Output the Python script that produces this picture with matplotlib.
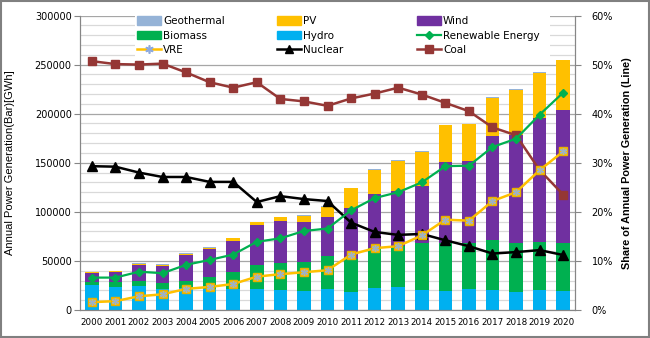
import numpy as np
import matplotlib.pyplot as plt
from matplotlib.lines import Line2D
from matplotlib.patches import Patch, Rectangle
from matplotlib.ticker import MultipleLocator, FuncFormatter

# Annual generation by renewable source (GWh) - bars, left axis
years = [str(y) for y in range(2000, 2021)]
hydro = [25100, 23400, 24400, 21000, 22000, 21400, 21400, 21400, 20700, 19300, 21400,
         18600, 22700, 23400, 20700, 19600, 21400, 20300, 18600, 20300, 19300]
biomass = [3700, 5400, 5400, 6100, 7800, 11800, 17600, 24000, 27400, 29900, 33800,
           33300, 40000, 42000, 47700, 48200, 47100, 50900, 49900, 49200, 49200]
wind = [8500, 9500, 16000, 18000, 26100, 28800, 31500, 40700, 42100, 40300, 39100,
        52100, 55000, 55600, 58000, 83000, 83300, 105800, 109800, 126500, 135200]
pv = [1000, 1000, 1200, 1200, 1200, 1200, 2500, 3200, 4100, 6500, 10900,
      19800, 25100, 30900, 35000, 37400, 37400, 39300, 45900, 45400, 50700]
geothermal = [500, 500, 500, 500, 500, 500, 500, 500, 600, 600, 600,
              600, 600, 600, 600, 600, 600, 600, 600, 600, 600]

# Share of annual power generation (%) - lines, right axis
renewable_share = [6.6, 6.6, 7.8, 7.5, 9.2, 10.2, 11.3, 13.9, 14.6, 16.1, 16.6,
                   20.3, 22.8, 24.0, 26.0, 29.3, 29.4, 33.2, 34.9, 39.8, 44.3]
vre_share = [1.6, 1.8, 2.8, 3.2, 4.3, 4.7, 5.3, 6.8, 7.3, 7.7, 8.1,
             11.3, 12.6, 13.0, 15.2, 18.4, 18.2, 22.2, 24.0, 28.5, 32.3]
nuclear_share = [29.3, 29.2, 28.0, 27.1, 27.1, 26.1, 26.1, 22.0, 23.2, 22.6, 22.2,
                 17.8, 15.9, 15.3, 15.5, 14.2, 13.0, 11.5, 11.8, 12.2, 11.2]
coal_share = [50.7, 50.1, 50.0, 50.2, 48.4, 46.4, 45.3, 46.4, 43.0, 42.5, 41.6,
              43.1, 44.1, 45.3, 43.9, 42.2, 40.5, 37.2, 35.6, 28.5, 23.5]

c_hydro, c_bio, c_wind, c_pv, c_geo = '#00B0F0', '#00B050', '#7030A0', '#FFC000', '#95B3D7'
c_coal, c_grey = '#953735', '#868686'

W, H = 650, 338
fig = plt.figure(figsize=(W / 100, H / 100), dpi=100)
ax = fig.add_axes([80 / W, 1 - 310 / H, 495 / W, 294.5 / H])
x = np.arange(len(years))

# stacked bars
bottom = np.zeros(len(years))
for vals, col in [(hydro, c_hydro), (biomass, c_bio), (wind, c_wind), (pv, c_pv), (geothermal, c_geo)]:
    ax.bar(x, vals, width=0.57, bottom=bottom, color=col, zorder=2)
    bottom += np.array(vals)

ax.set_xlim(-0.5, len(years) - 0.5)
ax.set_ylim(0, 300000)
ax.yaxis.set_major_locator(MultipleLocator(50000))
ax.yaxis.set_minor_locator(MultipleLocator(10000))
ax.set_axisbelow(True)
ax.grid(which='minor', axis='y', color='#D9D9D9', lw=0.9)
ax.grid(which='major', axis='y', color='#A6A6A6', lw=0.9)
ax.set_xticks(x)
ax.set_xticklabels(years, fontsize=6.3)
ax.tick_params(axis='x', length=0, pad=6)
ax.tick_params(axis='y', which='major', labelsize=7, length=4, color=c_grey, pad=2)
ax.tick_params(axis='y', which='minor', length=0)
for s in ['left', 'bottom', 'right']:
    ax.spines[s].set_color(c_grey)
ax.spines['top'].set_visible(False)
ax.set_ylabel('Annual Power Generation(Bar)[GWh]', family='Liberation Sans', fontsize=8, labelpad=4)
ax.yaxis.set_label_coords(-65 / 495, 0.5)

# white box behind the legend
ax.add_patch(Rectangle((135 / W, 1 - 59 / H), 415 / W, 46 / H, transform=fig.transFigure,
                       facecolor='white', edgecolor='none', zorder=1))

# share lines
ax2 = ax.twinx()
ax2.set_ylim(0, 60)
ax2.yaxis.set_major_locator(MultipleLocator(10))
ax2.yaxis.set_major_formatter(FuncFormatter(lambda v, p: f'{v:.0f}%'))
ax2.tick_params(axis='y', labelsize=7, length=4, color=c_grey, pad=8)
for s in ['left', 'bottom', 'right']:
    ax2.spines[s].set_color(c_grey)
ax2.spines['top'].set_visible(False)
ax2.set_ylabel('Share of Annual Power Generation (Line)', family='Liberation Sans',
               fontsize=7.8, fontweight='bold')
ax2.yaxis.set_label_coords(1 + 47 / 495, 0.5)

star = (6, 2, 0)
ax2.plot(x, coal_share, color=c_coal, lw=1.8, marker='s', ms=5.5, zorder=3)
ax2.plot(x, nuclear_share, color='black', lw=1.8, marker='^', ms=6.5, zorder=4)
ax2.plot(x, renewable_share, color=c_bio, lw=1.6, marker='D', ms=4, zorder=5)
ax2.plot(x, vre_share, color=c_pv, lw=1.8, marker='s', ms=5.5, mfc=c_pv, mec='#E6B000', zorder=6)
ax2.plot(x, vre_share, ls='none', marker=star, ms=5, mec='#9DB2C8', mew=1, zorder=7)

handles = [
    [(Patch(color=c_geo), 'Geothermal'), (Patch(color=c_bio), 'Biomass'),
     (Line2D([], [], color=c_pv, lw=1.8, marker=star, ms=6, mec='#8FAADC', mew=1.2), 'VRE')],
    [(Patch(color=c_pv), 'PV'), (Patch(color=c_hydro), 'Hydro'),
     (Line2D([], [], color='black', lw=1.8, marker='^', ms=6), 'Nuclear')],
    [(Patch(color=c_wind), 'Wind'),
     (Line2D([], [], color=c_bio, lw=1.6, marker='D', ms=4), 'Renewable Energy'),
     (Line2D([], [], color=c_coal, lw=1.8, marker='s', ms=5.5), 'Coal')],
]
for i, (col, xpos) in enumerate(zip(handles, [137, 277, 417])):
    leg = ax2.legend([h for h, _ in col], [t for _, t in col], loc='upper left',
                     bbox_to_anchor=(xpos / W, 1 - 16 / H), bbox_transform=fig.transFigure,
                     frameon=False, fontsize=7.5, borderpad=0, borderaxespad=0,
                     handlelength=2.3, handleheight=0.85, handletextpad=0.2, labelspacing=0.45)
    if i < 2:
        ax2.add_artist(leg)

# outer frame
fig.patches.append(Rectangle((0.001, 0.002), 0.997, 0.995, transform=fig.transFigure,
                             fill=False, edgecolor='#808080', lw=1.5))

fig.savefig('out.png', dpi=100)
